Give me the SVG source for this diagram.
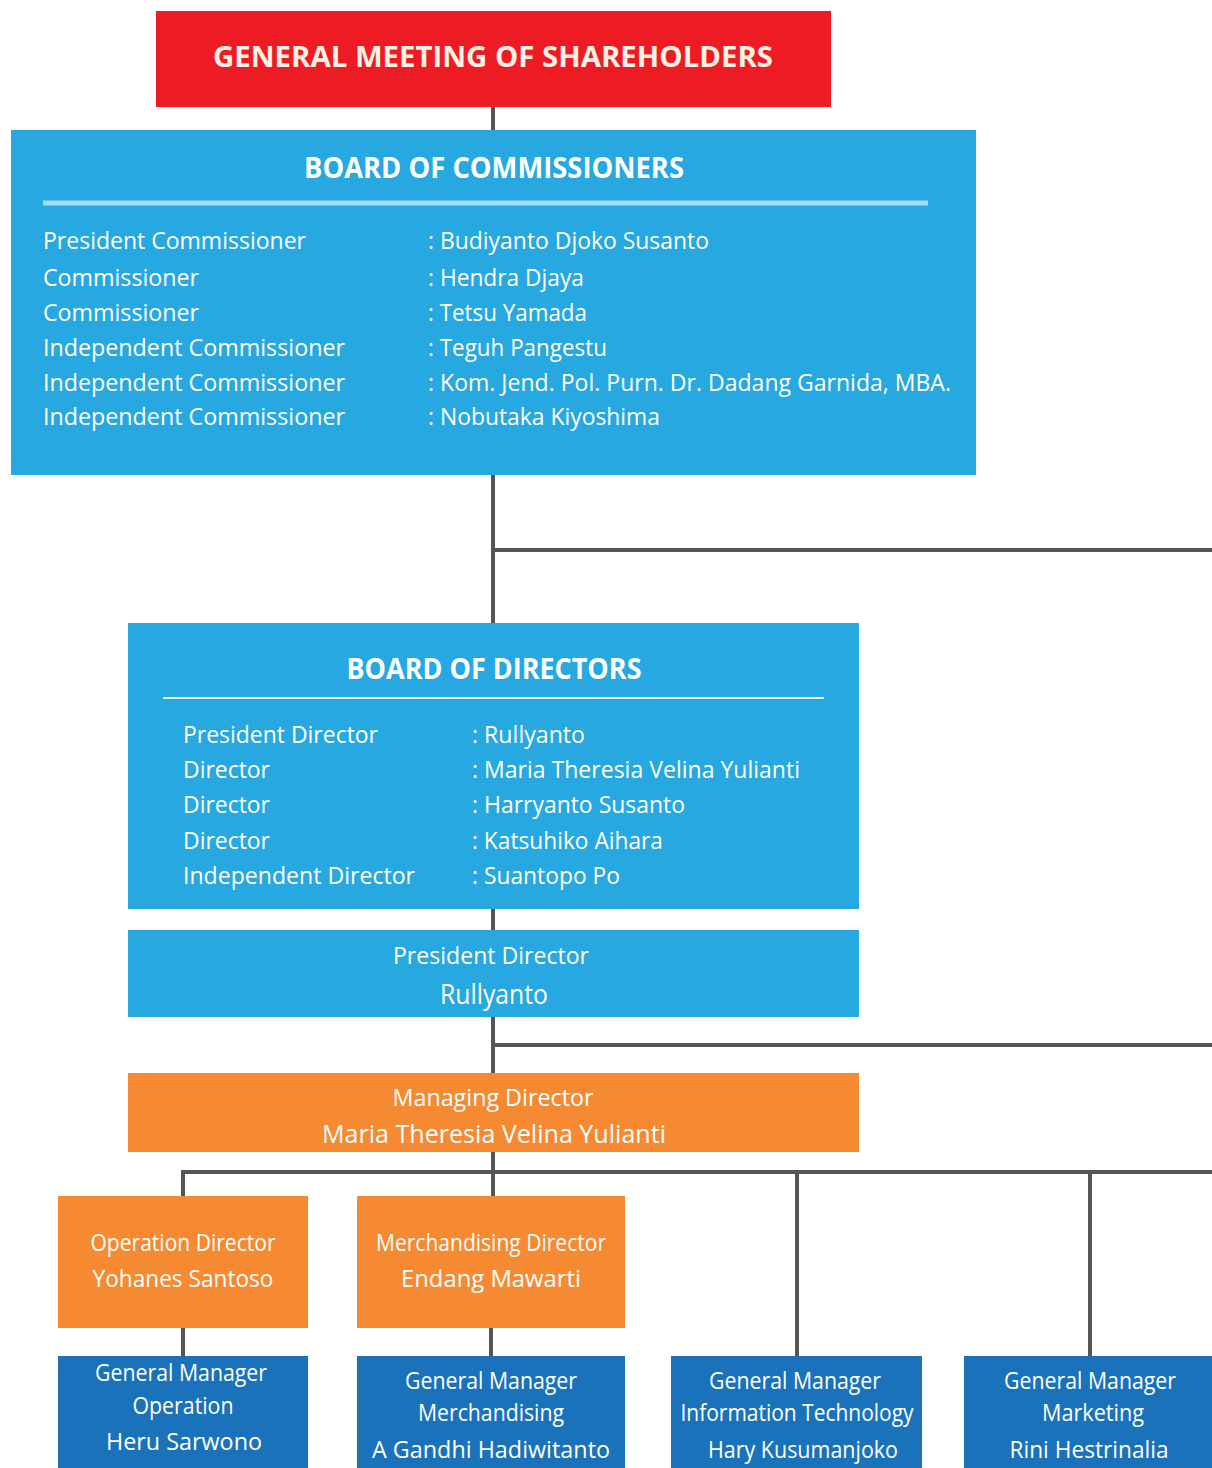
<svg xmlns="http://www.w3.org/2000/svg" width="1212" height="1468" viewBox="0 0 1212 1468">
<style>
text{font-family:"Open Sans","Liberation Sans",sans-serif;fill:#ffffff}
.t{font-weight:bold;font-size:29px;text-anchor:middle}
.r{font-size:24px}
.c{font-size:23px;text-anchor:middle}
.big{font-size:26px;text-anchor:middle}
.red{fill:#ed1c24}
.lb{fill:#27a8e0}
.or{fill:#f68a32}
.db{fill:#1a72bb}
.ln{stroke:#555555;stroke-width:4;fill:none}
</style>
<rect width="1212" height="1468" fill="#ffffff"/>
<g id="connectors">
<line class="ln" x1="493" y1="107" x2="493" y2="130"/>
<line class="ln" x1="493" y1="475" x2="493" y2="623"/>
<line class="ln" x1="493" y1="550" x2="1212" y2="550"/>
<line class="ln" x1="493" y1="909" x2="493" y2="930"/>
<line class="ln" x1="493" y1="1017" x2="493" y2="1073"/>
<line class="ln" x1="493" y1="1045" x2="1212" y2="1045"/>
<line class="ln" x1="493" y1="1152" x2="493" y2="1196"/>
<line class="ln" x1="181" y1="1172" x2="1212" y2="1172"/>
<line class="ln" x1="183" y1="1170" x2="183" y2="1196"/>
<line class="ln" x1="797" y1="1172" x2="797" y2="1356"/>
<line class="ln" x1="1090" y1="1172" x2="1090" y2="1356"/>
<line class="ln" x1="183" y1="1328" x2="183" y2="1356"/>
<line class="ln" x1="491" y1="1328" x2="491" y2="1356"/>
</g>
<g id="gms">
<rect class="red" x="156" y="11" width="675" height="96"/>
<text class="t" x="493" y="67" textLength="560" lengthAdjust="spacingAndGlyphs" style="fill:#fdf0e4">GENERAL MEETING OF SHAREHOLDERS</text>
</g>
<g id="boc">
<rect class="lb" x="11" y="130" width="965" height="345"/>
<text class="t" x="494" y="178" textLength="380" lengthAdjust="spacingAndGlyphs">BOARD OF COMMISSIONERS</text>
<line x1="43" y1="203" x2="928" y2="203" stroke="#a3def8" stroke-width="5"/>
<text class="r" x="43" y="249" textLength="263" lengthAdjust="spacingAndGlyphs">President Commissioner</text>
<text class="r" x="43" y="286" textLength="156" lengthAdjust="spacingAndGlyphs">Commissioner</text>
<text class="r" x="43" y="321" textLength="156" lengthAdjust="spacingAndGlyphs">Commissioner</text>
<text class="r" x="43" y="356" textLength="302" lengthAdjust="spacingAndGlyphs">Independent Commissioner</text>
<text class="r" x="43" y="391" textLength="302" lengthAdjust="spacingAndGlyphs">Independent Commissioner</text>
<text class="r" x="43" y="425" textLength="302" lengthAdjust="spacingAndGlyphs">Independent Commissioner</text>
<text class="r" x="428" y="249" textLength="281" lengthAdjust="spacingAndGlyphs">: Budiyanto Djoko Susanto</text>
<text class="r" x="428" y="286" textLength="156" lengthAdjust="spacingAndGlyphs">: Hendra Djaya</text>
<text class="r" x="428" y="321" textLength="159" lengthAdjust="spacingAndGlyphs">: Tetsu Yamada</text>
<text class="r" x="428" y="356" textLength="179" lengthAdjust="spacingAndGlyphs">: Teguh Pangestu</text>
<text class="r" x="428" y="391" textLength="523" lengthAdjust="spacingAndGlyphs">: Kom. Jend. Pol. Purn. Dr. Dadang Garnida, MBA.</text>
<text class="r" x="428" y="425" textLength="232" lengthAdjust="spacingAndGlyphs">: Nobutaka Kiyoshima</text>
</g>
<g id="bod">
<rect class="lb" x="128" y="623" width="731" height="286"/>
<text class="t" x="494" y="679" textLength="295" lengthAdjust="spacingAndGlyphs">BOARD OF DIRECTORS</text>
<line x1="163" y1="698" x2="824" y2="698" stroke="#e6f6fd" stroke-width="2"/>
<text class="r" x="183" y="743" textLength="195" lengthAdjust="spacingAndGlyphs">President Director</text>
<text class="r" x="183" y="778" textLength="87" lengthAdjust="spacingAndGlyphs">Director</text>
<text class="r" x="183" y="813" textLength="87" lengthAdjust="spacingAndGlyphs">Director</text>
<text class="r" x="183" y="849" textLength="87" lengthAdjust="spacingAndGlyphs">Director</text>
<text class="r" x="183" y="884" textLength="232" lengthAdjust="spacingAndGlyphs">Independent Director</text>
<text class="r" x="472" y="743" textLength="113" lengthAdjust="spacingAndGlyphs">: Rullyanto</text>
<text class="r" x="472" y="778" textLength="328" lengthAdjust="spacingAndGlyphs">: Maria Theresia Velina Yulianti</text>
<text class="r" x="472" y="813" textLength="213" lengthAdjust="spacingAndGlyphs">: Harryanto Susanto</text>
<text class="r" x="472" y="849" textLength="191" lengthAdjust="spacingAndGlyphs">: Katsuhiko Aihara</text>
<text class="r" x="472" y="884" textLength="148" lengthAdjust="spacingAndGlyphs">: Suantopo Po</text>
</g>
<g id="president-director">
<rect class="lb" x="128" y="930" width="731" height="87"/>
<text class="c" x="491" y="964" textLength="196" lengthAdjust="spacingAndGlyphs">President Director</text>
<text class="big" x="494" y="1004" style="font-size:28px" textLength="108" lengthAdjust="spacingAndGlyphs">Rullyanto</text>
</g>
<g id="managing-director">
<rect class="or" x="128" y="1073" width="731" height="79"/>
<text class="c" x="493" y="1106" textLength="201" lengthAdjust="spacingAndGlyphs">Managing Director</text>
<text class="big" x="494" y="1143" textLength="344" lengthAdjust="spacingAndGlyphs">Maria Theresia Velina Yulianti</text>
</g>
<g id="operation-director">
<rect class="or" x="58" y="1196" width="250" height="132"/>
<text class="c" x="183" y="1251" textLength="185" lengthAdjust="spacingAndGlyphs">Operation Director</text>
<text class="c" x="183" y="1287" textLength="181" lengthAdjust="spacingAndGlyphs">Yohanes Santoso</text>
</g>
<g id="merchandising-director">
<rect class="or" x="357" y="1196" width="268" height="132"/>
<text class="c" x="491" y="1251" textLength="230" lengthAdjust="spacingAndGlyphs">Merchandising Director</text>
<text class="c" x="491" y="1287" textLength="180" lengthAdjust="spacingAndGlyphs">Endang Mawarti</text>
</g>
<g id="gm-operation">
<rect class="db" x="58" y="1356" width="250" height="112"/>
<text class="c" x="181" y="1381" textLength="172" lengthAdjust="spacingAndGlyphs">General Manager</text>
<text class="c" x="183" y="1414" textLength="101" lengthAdjust="spacingAndGlyphs">Operation</text>
<text class="c" x="184" y="1450" textLength="156" lengthAdjust="spacingAndGlyphs">Heru Sarwono</text>
</g>
<g id="gm-merchandising">
<rect class="db" x="357" y="1356" width="268" height="112"/>
<text class="c" x="491" y="1389" textLength="172" lengthAdjust="spacingAndGlyphs">General Manager</text>
<text class="c" x="491" y="1421" textLength="146" lengthAdjust="spacingAndGlyphs">Merchandising</text>
<text class="c" x="491" y="1458" textLength="238" lengthAdjust="spacingAndGlyphs">A Gandhi Hadiwitanto</text>
</g>
<g id="gm-it">
<rect class="db" x="671" y="1356" width="251" height="112"/>
<text class="c" x="795" y="1389" textLength="172" lengthAdjust="spacingAndGlyphs">General Manager</text>
<text class="c" x="797" y="1421" textLength="233" lengthAdjust="spacingAndGlyphs">Information Technology</text>
<text class="c" x="803" y="1458" textLength="190" lengthAdjust="spacingAndGlyphs">Hary Kusumanjoko</text>
</g>
<g id="gm-marketing">
<rect class="db" x="964" y="1356" width="248" height="112"/>
<text class="c" x="1090" y="1389" textLength="172" lengthAdjust="spacingAndGlyphs">General Manager</text>
<text class="c" x="1093" y="1421" textLength="102" lengthAdjust="spacingAndGlyphs">Marketing</text>
<text class="c" x="1089" y="1458" textLength="159" lengthAdjust="spacingAndGlyphs">Rini Hestrinalia</text>
</g>
</svg>
